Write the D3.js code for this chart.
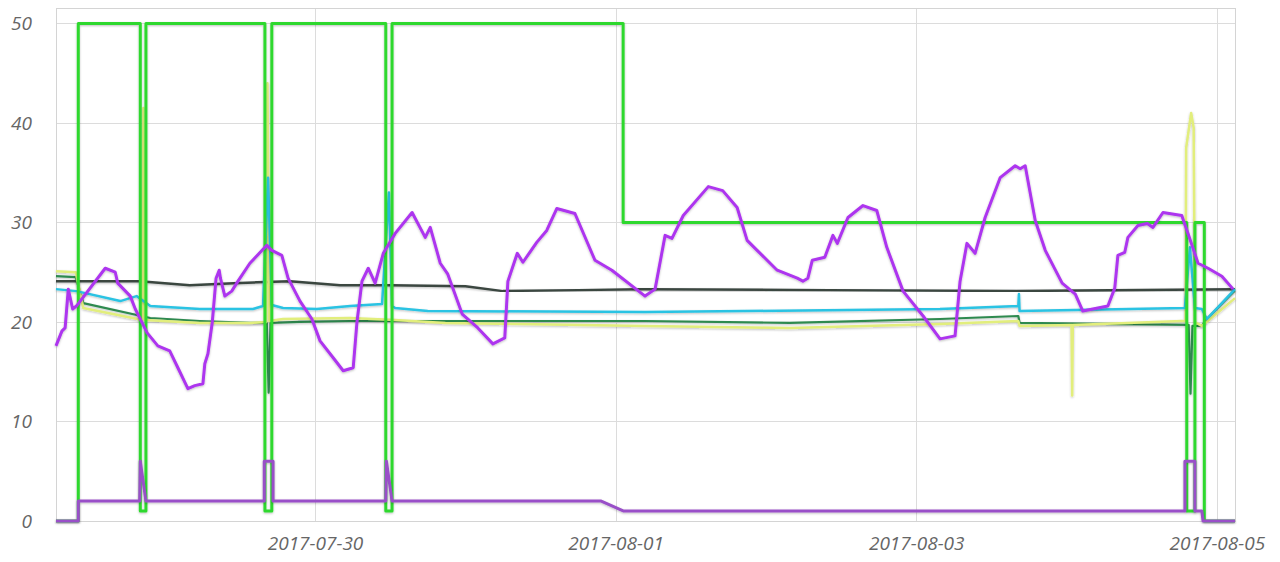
<!DOCTYPE html>
<html>
<head>
<meta charset="utf-8">
<script src="https://cdn.jsdelivr.net/npm/d3@7"></script>
<style>
  html, body { margin: 0; padding: 0; background: #fff; }
  svg { display: block; }
  .axis text { font-family: "Open Sans", sans-serif; font-style: italic; font-size: 19px; fill: #666; }
</style>
</head>
<body>
<svg id="chart" width="1280" height="562"></svg>
<script>
// ---- data (hours since 2017-07-28 00:00 UTC, value) ----
const xTickLabels = ["2017-07-30", "2017-08-01", "2017-08-03", "2017-08-05"];
const yTickValues = [0, 10, 20, 30, 40, 50];
const timeRange = [6.64, 194.9];

const setpointSeries = [
  [6.64,0],[10.2,0],[10.2,50],[20.1,50],[20.1,1],[21.0,1],[21.0,50],[40.0,50],[40.0,1],[41.1,1],[41.1,50],
  [59.3,50],[59.3,1],[60.3,1],[60.3,50],[97.2,50],[97.2,30],[187.2,30],[187.2,1],[188.5,1],[188.5,30],
  [190.0,30],[190.0,0],[194.9,0]
];
const modeSeries = [
  [6.64,0],[10.2,0],[10.2,2],[20.0,2],[20.1,6],[21.0,2],[39.9,2],[39.9,6],[41.3,6],[41.3,2],
  [59.3,2],[59.4,6],[60.3,2],[93.7,2],[97.3,1],[186.9,1],[186.9,6],[188.5,6],[188.5,1],[189.6,1],
  [189.8,0],[194.9,0]
];
const outdoorSeries = [
  [6.64,17.6],[7.6,19.1],[8.1,19.4],[8.6,23.3],[9.3,21.3],[9.9,21.6],[14.5,25.4],[16.1,25.0],[16.5,23.9],
  [18.5,22.6],[19.3,21.3],[21.2,18.9],[22.9,17.6],[24.8,17.1],[26.1,15.4],[27.7,13.3],[28.8,13.6],[30.1,13.8],
  [30.4,15.8],[30.9,16.8],[31.6,20.0],[32.2,24.4],[32.7,25.2],[32.9,24.4],[33.6,22.6],[34.7,23.1],[35.7,24.1],
  [37.6,25.9],[40.3,27.7],[41.1,27.2],[42.7,26.7],[43.7,24.4],[45.6,22.1],[47.5,20.3],[48.8,18.1],[50.9,16.4],
  [52.5,15.1],[54.1,15.4],[54.7,20.0],[55.5,24.1],[56.5,25.4],[57.6,23.9],[58.9,26.9],[60.8,28.9],[63.5,31.0],
  [65.6,28.5],[66.4,29.5],[68.0,25.9],[69.2,24.8],[71.5,20.8],[74.0,19.4],[76.4,17.8],[78.3,18.4],[78.8,24.1],
  [80.3,26.9],[81.2,26.0],[83.4,28.0],[85.0,29.2],[86.6,31.4],[89.5,30.9],[92.7,26.2],[95.4,25.2],[100.7,22.6],
  [102.3,23.3],[103.9,28.7],[105.0,28.4],[106.8,30.7],[110.8,33.6],[113.1,33.2],[115.4,31.5],[117.0,28.2],
  [118.6,27.2],[121.8,25.2],[125.0,24.4],[125.9,24.1],[126.7,24.4],[127.4,26.2],[129.4,26.5],[130.7,28.7],
  [131.4,27.9],[133.1,30.5],[135.5,31.7],[137.7,31.2],[139.3,27.5],[141.9,23.1],[145.1,20.6],[147.8,18.3],
  [150.2,18.6],[151.0,24.1],[152.1,27.9],[153.4,26.9],[155.0,30.5],[157.4,34.5],[159.8,35.7],[160.6,35.4],
  [161.4,35.7],[163.0,30.2],[164.6,27.2],[167.3,23.9],[169.4,22.8],[170.6,21.1],[174.6,21.6],[175.7,23.4],
  [176.2,26.7],[177.3,27.0],[177.8,28.5],[179.4,29.7],[180.9,29.9],[181.8,29.5],[183.4,31.0],[186.4,30.7],
  [187.4,28.9],[189.0,25.9],[190.6,25.4],[192.8,24.6],[194.6,23.3]
];
const returnSeries = [
  [6.64,24.1],[20,24.1],[28,23.7],[35,23.9],[44,24.1],[52,23.7],[60,23.7],[72,23.6],[78,23.1],
  [90,23.2],[100,23.3],[130,23.2],[160,23.1],[194.9,23.3]
];
const roomSeries = [
  [6.64,23.3],[9.9,23.1],[16.9,22.1],[19.5,22.6],[21.7,21.6],[29.6,21.3],[38.1,21.3],[39.7,21.6],
  [40.5,34.5],[41.1,21.7],[42.9,21.4],[48.3,21.3],[53.6,21.6],[58.7,21.8],[59.8,33.0],[60.3,21.6],
  [60.8,21.4],[66.0,21.1],[100.7,21.0],[147.8,21.3],[160.3,21.6],[160.4,22.8],[160.5,21.1],[186.9,21.4],
  [187.7,27.5],[188.5,21.4],[189.6,21.3],[190.4,20.3],[194.6,23.1],[194.9,23.3]
];
const floorSeries = [
  [6.64,24.6],[9.8,24.5],[11.0,21.9],[21.7,20.4],[29.6,20.1],
  [37.6,19.9],[40.3,19.9],[40.6,12.9],[40.9,19.9],[45.6,20.0],[53.6,20.1],[100.7,20.1],[123.8,19.9],
  [147.8,20.3],[160.3,20.6],[160.5,19.9],[173.7,19.8],[187.5,19.7],[187.8,12.8],[188.1,19.6],[189.6,19.6],
  [190.4,20.3],[194.6,23.0],[194.9,23.1]
];
const supplySeries = [
  [6.64,25.1],[9.8,25.0],[11.0,21.4],[18.9,20.4],[20.4,20.2],[20.6,41.5],[20.8,20.2],[29.6,19.9],[37.6,19.9],[40.2,20.0],[40.4,44.0],
  [40.7,20.1],[42.9,20.3],[53.6,20.4],[60.8,20.2],[68.8,19.9],[100.7,19.6],[123.8,19.4],[147.8,19.8],
  [160.3,20.1],[160.5,19.6],[168.8,19.7],[168.9,12.6],[169.0,19.7],[186.4,20.1],[187.0,20.1],[187.1,37.5],
  [187.9,41.0],[188.3,39.5],[188.5,20.0],[189.6,19.6],[194.9,22.4]
];

// ---- chart ----
const svg = d3.select("#chart");
const BASE = Date.UTC(2017, 6, 28);
const toDate = h => new Date(BASE + h * 3600e3);
const parseDay = d3.utcParse("%Y-%m-%d");

const pLeft = 56, pRight = 1235, pTop = 8, pBottom = 521;
const x = d3.scaleUtc().domain(timeRange.map(toDate)).range([pLeft, pRight]);
const y = d3.scaleLinear().domain([0, 51.55]).range([pBottom, pTop]);

const defs = svg.append("defs");
const f = defs.append("filter").attr("id", "shadow").attr("x", "-5%").attr("y", "-5%").attr("width", "110%").attr("height", "110%");
f.append("feDropShadow").attr("dx", 0).attr("dy", 1).attr("stdDeviation", 1.2).attr("flood-color", "#000").attr("flood-opacity", 0.25);

// grid
const xTicks = xTickLabels.map(parseDay);
svg.append("g").selectAll("line").data(yTickValues).join("line")
  .attr("x1", pLeft).attr("x2", pRight)
  .attr("y1", d => Math.round(y(d)) + 0.5).attr("y2", d => Math.round(y(d)) + 0.5)
  .attr("stroke", "#dcdcdc").attr("stroke-width", 1);
svg.append("g").selectAll("line").data(xTicks).join("line")
  .attr("y1", pTop).attr("y2", pBottom)
  .attr("x1", d => Math.round(x(d)) + 0.5).attr("x2", d => Math.round(x(d)) + 0.5)
  .attr("stroke", "#dcdcdc").attr("stroke-width", 1);
svg.append("rect").attr("x", pLeft + 0.5).attr("y", pTop + 0.5)
  .attr("width", pRight - pLeft).attr("height", pBottom - pTop)
  .attr("fill", "none").attr("stroke", "#d4d4d4");

// axes
const yAxis = svg.append("g").attr("class", "axis").attr("transform", `translate(${pLeft},0)`)
  .call(d3.axisLeft(y).tickValues(yTickValues).tickSize(0).tickPadding(24).tickFormat(d3.format("d")));
yAxis.select(".domain").remove();
const xAxis = svg.append("g").attr("class", "axis").attr("transform", `translate(0,${pBottom})`)
  .call(d3.axisBottom(x).tickValues(xTicks).tickSize(0).tickPadding(16).tickFormat(d3.utcFormat("%Y-%m-%d")));
xAxis.select(".domain").remove();

// lines
const line = d3.line().x(d => x(toDate(d[0]))).y(d => y(d[1])).curve(d3.curveLinear);
const series = [
  { data: returnSeries, color: "#3b4641", width: 2.5 },
  { data: floorSeries, color: "#2f8a50", width: 2.2 },
  { data: supplySeries, color: "#e2ee7c", width: 2.5 },
  { data: roomSeries, color: "#2bc3e3", width: 2.5 },
  { data: setpointSeries, color: "#2fd82f", width: 3 },
  { data: modeSeries, color: "#9950c8", width: 3 },
  { data: outdoorSeries, color: "#ad35ef", width: 3 }
];
const plot = svg.append("g");
series.forEach(s => {
  plot.append("path").datum(s.data)
    .attr("d", line)
    .attr("fill", "none")
    .attr("stroke", s.color)
    .attr("stroke-width", s.width)
    .attr("stroke-linejoin", "round")
    .attr("filter", "url(#shadow)");
});
</script>
</body>
</html>
